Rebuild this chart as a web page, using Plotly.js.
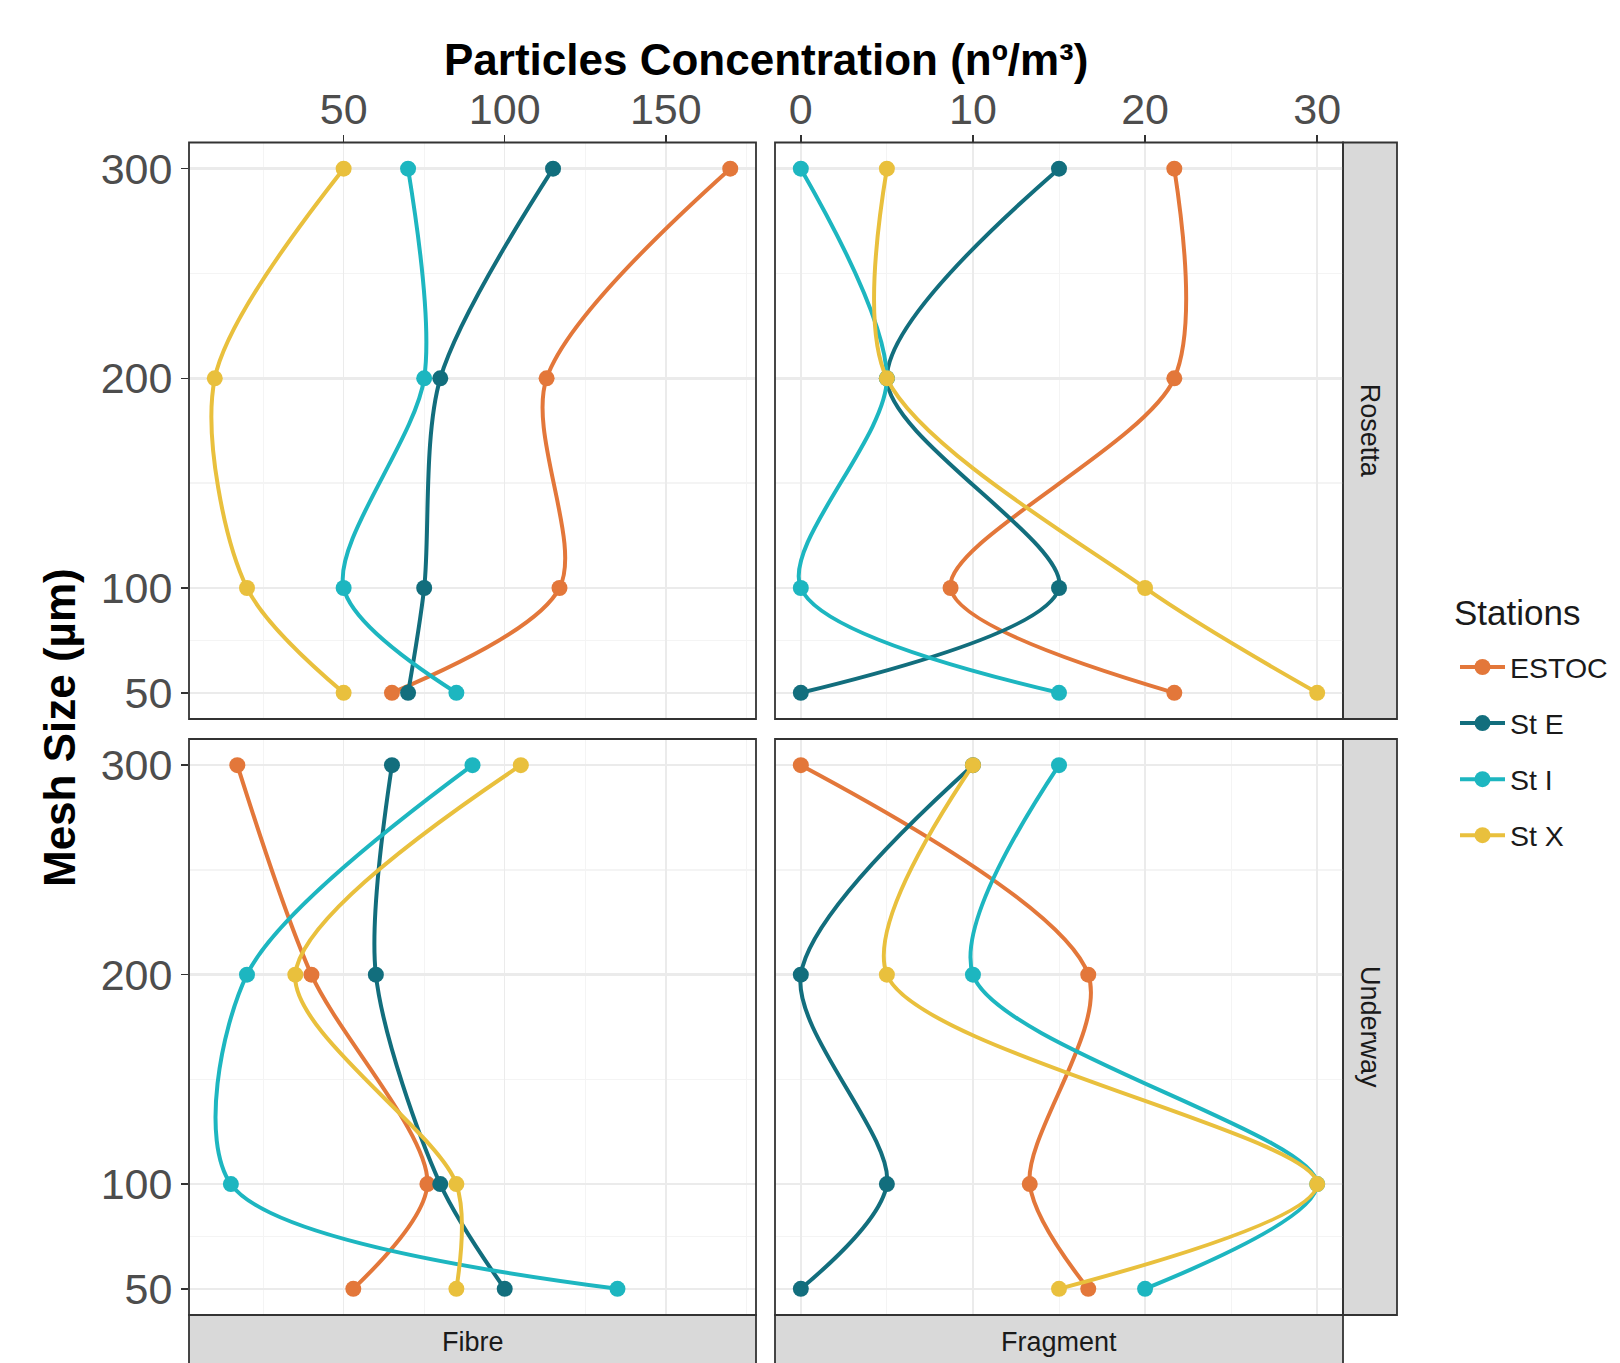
<!DOCTYPE html>
<html>
<head>
<meta charset="utf-8">
<script src="https://cdn.plot.ly/plotly-3.0.1.min.js"></script>
<style>html,body{margin:0;padding:0;background:#fff;}</style>
</head>
<body>
<div id="chart" style="width:1620px;height:1363px;"></div>
<script>
// ---- data ----
const meshSize = [300, 200, 100, 50];
const stations = ['ESTOC', 'St E', 'St I', 'St X'];
const stationColors = ['#E3773A', '#126E7D', '#1DB6C0', '#E9C03D'];
const particleTypes = ['Fibre', 'Fragment'];
const samplingMethods = ['Rosetta', 'Underway'];

// Fibre - Rosetta
const fibreRosettaESTOC = [170, 113, 117, 65];
const fibreRosettaStE   = [115, 80, 75, 70];
const fibreRosettaStI   = [70, 75, 50, 85];
const fibreRosettaStX   = [50, 10, 20, 50];
// Fibre - Underway
const fibreUnderwayESTOC = [17, 40, 76, 53];
const fibreUnderwayStE   = [65, 60, 80, 100];
const fibreUnderwayStI   = [90, 20, 15, 135];
const fibreUnderwayStX   = [105, 35, 85, 85];
// Fragment - Rosetta
const fragRosettaESTOC = [21.7, 21.7, 8.7, 21.7];
const fragRosettaStE   = [15, 5, 15, 0];
const fragRosettaStI   = [0, 5, 0, 15];
const fragRosettaStX   = [5, 5, 20, 30];
// Fragment - Underway
const fragUnderwayESTOC = [0, 16.7, 13.3, 16.7];
const fragUnderwayStE   = [10, 0, 5, 0];
const fragUnderwayStI   = [15, 10, 30, 20];
const fragUnderwayStX   = [10, 5, 30, 15];

const xTicksFibre = [50, 100, 150];
const xTicksFragment = [0, 10, 20, 30];
const yTicks = [50, 100, 200, 300];

// ---- traces ----
const panels = [
  {xa: 'x',  ya: 'y',  series: [fibreRosettaESTOC, fibreRosettaStE, fibreRosettaStI, fibreRosettaStX], legend: true},
  {xa: 'x2', ya: 'y2', series: [fragRosettaESTOC, fragRosettaStE, fragRosettaStI, fragRosettaStX], legend: false},
  {xa: 'x3', ya: 'y3', series: [fibreUnderwayESTOC, fibreUnderwayStE, fibreUnderwayStI, fibreUnderwayStX], legend: false},
  {xa: 'x4', ya: 'y4', series: [fragUnderwayESTOC, fragUnderwayStE, fragUnderwayStI, fragUnderwayStX], legend: false}
];
const traces = [];
panels.forEach(p => {
  p.series.forEach((vals, i) => {
    traces.push({
      type: 'scatter', mode: 'lines+markers',
      x: vals, y: meshSize, xaxis: p.xa, yaxis: p.ya,
      name: stations[i], legendgroup: stations[i], showlegend: p.legend,
      line: {color: stationColors[i], width: 4, shape: 'spline', smoothing: 0.85},
      marker: {color: stationColors[i], size: 16},
      hoverinfo: 'skip'
    });
  });
});

// ---- layout ----
const W = 1620, H = 1363;
const px = v => v / W, py = v => 1 - v / H;
const colL = [px(189), px(756)];
const colR = [px(775), px(1343)];
const rowT = [py(719), py(142.5)];
const rowB = [py(1315), py(739)];

const tickFont = {family: 'Liberation Sans, Arial, sans-serif', size: 43, color: '#4D4D4D'};
const gridMajor = '#EBEBEB';
const gridMinor = '#F4F4F4';

function xAxis(domain, range, ticks, minorDtick, anchor, showLabels, matches) {
  const ax = {
    domain: domain, anchor: anchor, range: range, side: 'top',
    tickmode: 'array', tickvals: ticks,
    showgrid: true, gridcolor: gridMajor, gridwidth: 1.5,
    minor: {tickmode: 'linear', tick0: 0, dtick: minorDtick, showgrid: true, gridcolor: gridMinor, gridwidth: 1, ticks: ''},
    zeroline: false, showline: false,
    ticks: showLabels ? 'outside' : '', ticklen: 7, tickwidth: 1.5, tickcolor: '#333333',
    showticklabels: showLabels, tickfont: tickFont, ticklabelstandoff: -7, fixedrange: true
  };
  if (matches) ax.matches = matches;
  return ax;
}
function yAxis(domain, anchor, showLabels) {
  return {
    domain: domain, anchor: anchor, range: [37.5, 312.5],
    tickmode: 'array', tickvals: yTicks,
    showgrid: true, gridcolor: gridMajor, gridwidth: 2.5,
    minor: {tickmode: 'array', tickvals: [75, 150, 250], showgrid: true, gridcolor: gridMinor, gridwidth: 1.5, ticks: ''},
    zeroline: false, showline: false,
    ticks: showLabels ? 'outside' : '', ticklen: 7, tickwidth: 1.5, tickcolor: '#333333',
    showticklabels: showLabels, tickfont: tickFont, fixedrange: true
  };
}

const shapes = [];
// panel borders
[['x','y'],['x2','y2'],['x3','y3'],['x4','y4']].forEach(([xa, ya]) => {
  shapes.push({type: 'rect', xref: xa + ' domain', yref: ya + ' domain', x0: 0, x1: 1, y0: 0, y1: 1,
    line: {color: '#333333', width: 1.8}, fillcolor: 'rgba(0,0,0,0)', layer: 'above'});
});
// strips
const stripFill = '#D9D9D9';
const stripRight = [px(1343), px(1397)];
[rowT, rowB].forEach(r => {
  shapes.push({type: 'rect', xref: 'paper', yref: 'paper', x0: stripRight[0], x1: stripRight[1], y0: r[0], y1: r[1],
    line: {color: '#333333', width: 1.8}, fillcolor: stripFill, layer: 'below'});
});
[colL, colR].forEach(c => {
  shapes.push({type: 'rect', xref: 'paper', yref: 'paper', x0: c[0], x1: c[1], y0: -0.02, y1: rowB[0],
    line: {color: '#333333', width: 1.8}, fillcolor: stripFill, layer: 'below'});
});

const stripFont = {family: 'Liberation Sans, Arial, sans-serif', size: 27, color: '#1A1A1A'};
const titleFont = {family: 'Liberation Sans, Arial, sans-serif', size: 44, color: '#000000', weight: 'bold'};
const annotations = [
  {text: samplingMethods[0], xref: 'paper', yref: 'paper', x: (stripRight[0] + stripRight[1]) / 2, y: (rowT[0] + rowT[1]) / 2,
   textangle: 90, showarrow: false, font: stripFont, xanchor: 'center', yanchor: 'middle'},
  {text: samplingMethods[1], xref: 'paper', yref: 'paper', x: (stripRight[0] + stripRight[1]) / 2, y: (rowB[0] + rowB[1]) / 2,
   textangle: 90, showarrow: false, font: stripFont, xanchor: 'center', yanchor: 'middle'},
  {text: particleTypes[0], xref: 'paper', yref: 'paper', x: (colL[0] + colL[1]) / 2, y: py(1342),
   showarrow: false, font: stripFont, xanchor: 'center', yanchor: 'middle'},
  {text: particleTypes[1], xref: 'paper', yref: 'paper', x: (colR[0] + colR[1]) / 2, y: py(1342),
   showarrow: false, font: stripFont, xanchor: 'center', yanchor: 'middle'},
  {text: '<b>Particles Concentration (nº/m³)</b>', xref: 'paper', yref: 'paper', x: (colL[0] + colR[1]) / 2, y: py(60),
   showarrow: false, font: titleFont, xanchor: 'center', yanchor: 'middle'},
  {text: '<b>Mesh Size (µm)</b>', xref: 'paper', yref: 'paper', x: px(59), y: py(728),
   textangle: -90, showarrow: false, font: titleFont, xanchor: 'center', yanchor: 'middle'},
  {text: 'Stations', xref: 'paper', yref: 'paper', x: px(1452), y: py(613),
   showarrow: false, font: {family: 'Liberation Sans, Arial, sans-serif', size: 35, color: '#1A1A1A'},
   xanchor: 'left', yanchor: 'middle'}
];

const layout = {
  width: W, height: H, autosize: false,
  margin: {l: 0, r: 0, t: 0, b: 0, pad: 0},
  paper_bgcolor: '#FFFFFF', plot_bgcolor: '#FFFFFF',
  font: {family: 'Liberation Sans, Arial, sans-serif', color: '#1A1A1A'},
  xaxis:  xAxis(colL, [2, 178], xTicksFibre, 25, 'y', true),
  xaxis2: xAxis(colR, [-1.5, 31.5], xTicksFragment, 5, 'y2', true),
  xaxis3: xAxis(colL, [2, 178], xTicksFibre, 25, 'y3', false, 'x'),
  xaxis4: xAxis(colR, [-1.5, 31.5], xTicksFragment, 5, 'y4', false, 'x2'),
  yaxis:  yAxis(rowT, 'x', true),
  yaxis2: yAxis(rowT, 'x2', false),
  yaxis3: yAxis(rowB, 'x3', true),
  yaxis4: yAxis(rowB, 'x4', false),
  shapes: shapes,
  annotations: annotations,
  showlegend: true,
  legend: {
    x: px(1455), y: py(642), xanchor: 'left', yanchor: 'top',
    font: {family: 'Liberation Sans, Arial, sans-serif', size: 28.5, color: '#1A1A1A'},
    traceorder: 'grouped', tracegroupgap: 16, itemwidth: 45,
    bgcolor: 'rgba(0,0,0,0)'
  }
};

Plotly.newPlot('chart', traces, layout, {staticPlot: true, displayModeBar: false});
</script>
</body>
</html>
